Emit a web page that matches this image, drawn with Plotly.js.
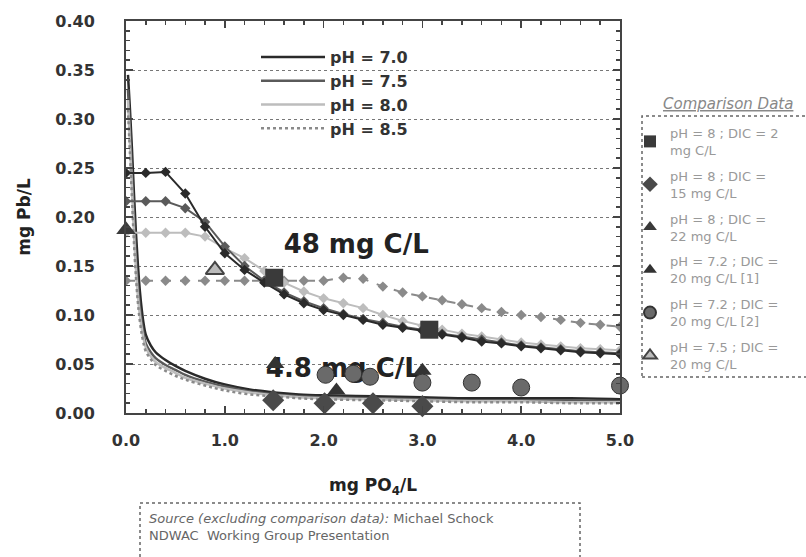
<!DOCTYPE html>
<html>
<head>
<meta charset="utf-8">
<script src="https://cdn.plot.ly/plotly-3.0.1.min.js"></script>
<style>html,body{margin:0;padding:0;background:#fff;}#chart{width:806px;height:557px;}</style>
</head>
<body>
<div id="chart"></div>
<script>
// ---- Model curves: 48 mg C/L (with markers) ----
const xModel48 = [0,0.2,0.4,0.6,0.8,1.0,1.2,1.4,1.6,1.8,2.0,2.2,2.4,2.6,2.8,3.0,3.2,3.4,3.6,3.8,4.0,4.2,4.4,4.6,4.8,5.0];
const pb48_pH70 = [0.245,0.245,0.246,0.224,0.190,0.163,0.146,0.133,0.121,0.112,0.105,0.100,0.095,0.090,0.087,0.084,0.080,0.077,0.073,0.071,0.068,0.066,0.064,0.062,0.061,0.060];
const pb48_pH75 = [0.216,0.216,0.216,0.209,0.195,0.170,0.150,0.135,0.123,0.114,0.107,0.101,0.096,0.092,0.088,0.085,0.081,0.078,0.075,0.072,0.069,0.067,0.065,0.063,0.062,0.061];
const pb48_pH80 = [0.184,0.184,0.184,0.184,0.180,0.168,0.158,0.145,0.133,0.124,0.117,0.112,0.107,0.100,0.094,0.089,0.085,0.081,0.078,0.075,0.072,0.070,0.068,0.066,0.065,0.064];
const pb48_pH85 = [0.135,0.135,0.135,0.135,0.135,0.135,0.135,0.135,0.135,0.135,0.135,0.138,0.137,0.129,0.123,0.119,0.115,0.111,0.107,0.103,0.100,0.098,0.095,0.092,0.090,0.088];

// ---- Model curves: 4.8 mg C/L (lines only) ----
const xModel4p8 = [0.02,0.04,0.06,0.08,0.10,0.12,0.14,0.16,0.18,0.20,0.25,0.30,0.40,0.50,0.60,0.80,1.00,1.25,1.50,1.75,2.00,2.50,3.00,3.50,4.00,4.50,5.00];
const pb4p8_pH70 = [0.345,0.310,0.270,0.225,0.185,0.152,0.125,0.105,0.090,0.080,0.069,0.062,0.054,0.048,0.043,0.035,0.029,0.024,0.021,0.019,0.018,0.017,0.016,0.015,0.015,0.015,0.014];
const pb4p8_pH75 = [0.330,0.290,0.245,0.200,0.160,0.130,0.108,0.092,0.080,0.071,0.062,0.056,0.049,0.044,0.039,0.032,0.027,0.022,0.019,0.017,0.016,0.015,0.014,0.013,0.013,0.013,0.012];
const pb4p8_pH80 = [0.320,0.275,0.230,0.185,0.148,0.120,0.100,0.086,0.075,0.067,0.058,0.052,0.046,0.041,0.036,0.030,0.025,0.021,0.018,0.016,0.015,0.014,0.013,0.012,0.012,0.011,0.011];
const pb4p8_pH85 = [0.310,0.265,0.220,0.175,0.140,0.113,0.094,0.080,0.070,0.063,0.055,0.049,0.043,0.038,0.034,0.028,0.023,0.019,0.017,0.015,0.014,0.013,0.012,0.011,0.011,0.010,0.010];

// ---- Comparison data ----
const cmpDIC2_x = [1.5, 3.07];             const cmpDIC2_y = [0.138, 0.085];
const cmpDIC15_x = [1.49, 2.01, 2.5, 3.0]; const cmpDIC15_y = [0.013, 0.010, 0.010, 0.007];
const cmpDIC22_x = [0.0];                  const cmpDIC22_y = [0.187];
const cmp72a_x = [1.51, 2.13, 3.0];        const cmp72a_y = [0.050, 0.023, 0.043];
const cmp72b_x = [2.02, 2.30, 2.47, 3.0, 3.5, 4.0, 5.0];
const cmp72b_y = [0.039, 0.040, 0.037, 0.031, 0.031, 0.026, 0.028];
const cmp75_x = [0.9];                     const cmp75_y = [0.146];

const pHNames = ['pH = 7.0','pH = 7.5','pH = 8.0','pH = 8.5'];
const cmpNames = ['pH = 8 ; DIC = 2<br>mg C/L','pH = 8 ; DIC =<br>15 mg C/L','pH = 8 ; DIC =<br>22 mg C/L',
                  'pH = 7.2 ; DIC =<br>20 mg C/L [1]','pH = 7.2 ; DIC =<br>20 mg C/L [2]','pH = 7.5 ; DIC =<br>20 mg C/L'];
const xTickVals = [0,1,2,3,4,5];
const xTickLabels = ['0.0','1.0','2.0','3.0','4.0','5.0'];
const yTickVals = [0,0.05,0.1,0.15,0.2,0.25,0.3,0.35,0.4];
const yTickLabels = ['0.00','0.05','0.10','0.15','0.20','0.25','0.30','0.35','0.40'];

const lineColors = ['#2a2a2a','#5a5a5a','#bdbdbd','#8a8a8a'];
const lineDash = ['solid','solid','solid','dot'];

const traces = [];
const p48 = [pb48_pH70,pb48_pH75,pb48_pH80,pb48_pH85];
const p4 = [pb4p8_pH70,pb4p8_pH75,pb4p8_pH80,pb4p8_pH85];

// 4.8 mg C/L curves (legend 1)
for (let i=0;i<4;i++){
  traces.push({x:xModel4p8,y:p4[i],type:'scatter',mode:'lines',name:pHNames[i],
    line:{color:lineColors[i],width:2.5,shape:'spline',dash:lineDash[i]},
    legend:'legend',legendgroup:'ph'+i,showlegend:true,hoverinfo:'skip'});
}
// 48 mg C/L curves
const dash48 = ['solid','solid','solid','dash'];
for (let i=3;i>=0;i--){
  traces.push({x:xModel48,y:p48[i],type:'scatter',mode:'lines+markers',name:pHNames[i],
    line:{color:lineColors[i],width:2,dash:dash48[i]},
    marker:{symbol:'diamond',size:8,color:lineColors[i]},
    showlegend:false,hoverinfo:'skip'});
}
// text labels drawn beneath the comparison markers
traces.push({x:[2.33],y:[0.170],type:'scatter',mode:'text',text:['48 mg C/L'],
  textfont:{family:'DejaVu Sans',size:26,color:'#222',weight:'bold'},showlegend:false,hoverinfo:'skip',cliponaxis:false});
traces.push({x:[2.2],y:[0.043],type:'scatter',mode:'text',text:['4.8 mg C/L'],
  textfont:{family:'DejaVu Sans',size:26,color:'#222',weight:'bold'},showlegend:false,hoverinfo:'skip',cliponaxis:false});

const cmp = [
  {x:cmpDIC2_x,y:cmpDIC2_y,marker:{symbol:'square',size:18,color:'#3a3a3a'}},
  {x:cmpDIC15_x,y:cmpDIC15_y,marker:{symbol:'diamond',size:17,color:'#4a4a4a'}},
  {x:cmpDIC22_x,y:cmpDIC22_y,marker:{symbol:'triangle-up',size:17,color:'#3a3a3a'}},
  {x:cmp72a_x,y:cmp72a_y,marker:{symbol:'triangle-up',size:16,color:'#333'}},
  {x:cmp72b_x,y:cmp72b_y,marker:{symbol:'circle',size:17,color:'#6a6a6a',line:{color:'#333',width:1}}},
  {x:cmp75_x,y:cmp75_y,marker:{symbol:'triangle-up',size:16,color:'#bbb',line:{color:'#444',width:2}}}
];
cmp.forEach((c,i)=>{
  traces.push({x:c.x,y:c.y,type:'scatter',mode:'markers',name:cmpNames[i],marker:c.marker,
    legend:'legend2',legendgroup:'c'+i,cliponaxis:false,hoverinfo:'skip'});
});

const W=494, L=126, H=392;
const px = v => (v-L)/W;
const py = v => (413-v)/H;

const layout = {
  width:806,height:557,
  margin:{l:126,r:186,t:21,b:144},
  paper_bgcolor:'#fff',plot_bgcolor:'#fff',
  font:{family:'DejaVu Sans',color:'#333'},
  xaxis:{range:[0,5],tickvals:xTickVals,ticktext:xTickLabels,
    ticks:'inside',ticklen:7,tickwidth:1.5,tickcolor:'#444',
    minor:{dtick:0.2,ticks:'inside',ticklen:4,tickcolor:'#444',showgrid:false},
    showgrid:false,zeroline:false,showline:true,linecolor:'#444',linewidth:2,mirror:'allticks',
    ticklabelstandoff:12,
    tickfont:{family:'DejaVu Sans',size:16,color:'#333',weight:'bold'},
    title:{text:'mg PO<sub>4</sub>/L',font:{family:'DejaVu Sans',size:17,color:'#222',weight:'bold'},standoff:30}},
  yaxis:{range:[0,0.40],tickvals:yTickVals,ticktext:yTickLabels,
    ticks:'inside',ticklen:7,tickwidth:1.5,tickcolor:'#444',
    minor:{dtick:0.01,ticks:'inside',ticklen:4,tickcolor:'#444',showgrid:false},
    showgrid:true,gridcolor:'#777',griddash:'dot',gridwidth:1,
    zeroline:false,showline:true,linecolor:'#444',linewidth:2,mirror:'allticks',
    ticklabelstandoff:26,
    tickfont:{family:'DejaVu Sans',size:16,color:'#333',weight:'bold'},
    title:{text:'mg Pb/L',font:{family:'DejaVu Sans',size:17,color:'#222',weight:'bold'},standoff:20}},
  legend:{x:px(256),y:py(40),xanchor:'left',yanchor:'top',bgcolor:'rgba(0,0,0,0)',borderwidth:0,
    font:{family:'DejaVu Sans',size:16,color:'#333',weight:'bold'},traceorder:'grouped',tracegroupgap:0,itemwidth:64},
  legend2:{x:px(630),y:py(118),xanchor:'left',yanchor:'top',bgcolor:'rgba(0,0,0,0)',borderwidth:0,
    font:{family:'DejaVu Sans',size:13,color:'#999'},traceorder:'grouped',tracegroupgap:6,itemsizing:'constant'},
  shapes:[
    {type:'rect',xref:'paper',yref:'paper',x0:px(642),x1:px(812),y0:py(377),y1:py(116),
     line:{color:'#666',width:1.5,dash:'dot'},fillcolor:'rgba(0,0,0,0)'},
    {type:'rect',xref:'paper',yref:'paper',x0:px(140),x1:px(580),y0:py(562),y1:py(503),
     line:{color:'#666',width:1.5,dash:'dot'},fillcolor:'rgba(0,0,0,0)'}
  ],
  annotations:[
    {xref:'paper',yref:'paper',x:px(661),y:py(104),xanchor:'left',yanchor:'middle',showarrow:false,
     text:'<i><u>Comparison Data</u></i>',font:{family:'DejaVu Sans',size:15,color:'#888'}},
    {xref:'paper',yref:'paper',x:px(147),y:py(509),xanchor:'left',yanchor:'top',showarrow:false,align:'left',
     text:'<i>Source (excluding comparison data):</i> Michael Schock<br>NDWAC  Working Group Presentation',
     font:{family:'DejaVu Sans',size:13,color:'#666'}}
  ]
};

Plotly.newPlot('chart',traces,layout,{displayModeBar:false,staticPlot:true});
</script>
</body>
</html>
